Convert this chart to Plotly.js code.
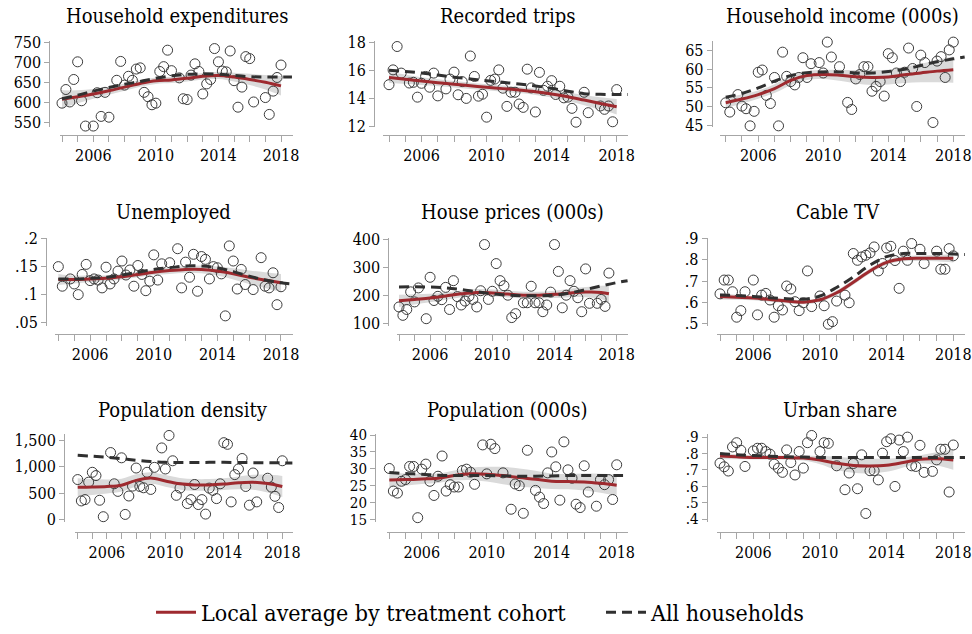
<!DOCTYPE html>
<html><head><meta charset="utf-8">
<script src="https://cdn.plot.ly/plotly-3.0.1.min.js"></script>
<style>html,body{margin:0;padding:0;background:#fff}#chart{width:972px;height:634px}</style>
</head><body><div id="chart"></div>
<script>
// ---------- DATA ----------
const quarters = [2004,2004.25,2004.5,2004.75,2005,2005.25,2005.5,2005.75,2006,2006.25,2006.5,2006.75,
  2007,2007.25,2007.5,2007.75,2008,2008.25,2008.5,2008.75,2009,2009.25,2009.5,2009.75,2010,2010.25,2010.5,2010.75,
  2011,2011.25,2011.5,2011.75,2012,2012.25,2012.5,2012.75,2013,2013.25,2013.5,2013.75,2014,2014.25,2014.5,2014.75,
  2015,2015.25,2015.5,2015.75,2016,2016.25,2016.5,2016.75,2017,2017.25,2017.5,2017.75,2018];
const lineYears = [2004,2005,2006,2007,2008,2009,2010,2011,2012,2013,2014,2015,2016,2017,2018];
const lineYearsHouse = [2004,2005,2006,2007,2008,2009,2010,2011,2012,2013,2014,2015,2016,2017,2017.5];
const dashYears = [2004,2005,2006,2007,2008,2009,2010,2011,2012,2013,2014,2015,2016,2017,2018,2018.7];
const xTickVals = [2004,2005,2006,2007,2008,2009,2010,2011,2012,2013,2014,2015,2016,2017,2018];
const xTickText = ['','','2006','','','','2010','','','','2014','','','','2018'];

const titles = ['Household expenditures','Recorded trips','Household income (000s)','Unemployed',
  'House prices (000s)','Cable TV','Population density','Population (000s)','Urban share'];

// scatter points (quarterly, null = no point)
const expPts = [598,632,601,657,701,604,541,null,541,624,565,625,563,null,655,702,643,665,655,683,686,625,614,594,598,677,689,730,679,null,661,609,607,668,696,677,621,646,657,734,701,678,676,728,654,588,638,714,709,601,null,null,612,570,628,662,693];
const tripsPts = [14.96,16.02,17.69,15.79,null,15.08,15.13,14.07,15.06,15.55,14.78,15.79,14.16,null,14.66,15.36,15.86,14.24,15.18,13.98,17.01,15.55,14.14,14.28,12.64,15.27,15.36,16.02,14.71,13.41,14.42,14.42,13.58,13.34,16.07,14.73,13.01,15.84,14.56,14.85,15.25,14.26,14.85,14.02,14.07,13.27,12.28,null,14.42,12.96,null,null,13.44,13.2,13.44,12.31,14.61];
const incomePts = [51.0,48.5,null,53.2,50.1,49.4,44.8,48.7,59.2,59.8,53.0,50.8,57.8,44.8,64.6,58.1,56.7,55.8,57.8,63.1,57.8,61.5,null,61.8,59.0,67.3,63.3,null,60.7,null,51.1,49.2,57.4,58.6,60.7,60.7,54.1,55.4,56.7,52.8,64.2,63.1,59.0,56.7,59.2,65.7,60.2,50.0,63.8,61.8,null,45.7,62.2,63.4,57.8,65.2,67.3];
const unempPts = [.150,.115,null,.128,.119,.100,.136,.154,.125,.128,.126,.112,.149,.119,.128,.142,.160,.135,.144,.115,.152,.136,.107,.124,.171,.126,.155,null,.157,null,.182,.112,.158,.131,.172,.106,.168,.163,.128,.150,.148,.137,.062,.187,.160,.110,.145,.118,null,.109,null,.166,.115,.112,.139,.082,.114];
const housePts = [158,128,149,212,176,226,null,116,264,181,196,184,228,149,252,195,165,179,196,185,158,216,381,185,214,313,252,234,200,120,134,null,173,173,232,173,173,141,165,211,381,285,155,200,252,214,191,141,294,171,null,171,185,160,279,null,null];
const cablePts = [.640,.705,.705,.650,.530,.561,.650,null,.705,.541,.634,.642,.611,.530,.584,.564,.677,.663,.603,.561,.598,.748,.580,null,.630,.584,.497,.509,.606,null,.634,.598,.830,.798,.814,.822,.833,.861,.748,.783,.856,.864,.797,.666,.841,.798,.877,null,.850,.783,null,null,.841,.756,.756,.853,.819];
const densityPts = [756,353,378,707,893,831,366,56,null,1265,676,533,1166,99,446,632,973,626,601,893,570,986,null,1352,955,1587,1110,459,595,null,304,378,663,285,378,105,595,552,397,676,1451,1420,335,849,955,1153,626,273,880,335,null,null,781,614,440,229,1110];
const popPts = [30.1,23.4,22.8,26.3,26.8,30.7,30.7,15.5,29.9,31.4,26.3,22.1,27.8,33.8,23.4,25.3,24.6,24.6,29.5,29.9,29.0,25.4,null,37.1,28.5,37.3,36.0,null,28.8,null,18.0,25.5,25.0,16.8,35.5,null,23.6,21.6,19.7,28.8,35.0,30.6,20.7,38.0,29.7,27.2,19.5,18.5,30.9,23.1,null,18.9,26.8,25.3,26.8,20.9,31.2];
const urbanPts = [.741,.719,.693,.840,.866,.820,.721,null,.816,.832,.832,.812,.796,.735,.711,.685,.822,.745,.669,.812,.711,.866,.910,null,.812,.866,.862,null,.725,null,.579,.681,.739,.585,.792,.434,.695,.695,.639,.802,.872,.890,.599,.882,.812,.900,.725,.721,.850,.685,null,.691,.761,.826,.826,.565,.852];

// local average by treatment cohort (yearly), CI half-widths, and all-households line
const expRed = [608,614,621,629,638,647,654,656,660,665,667,663,657,650,641];
const expHw = [22,16,12,10,9,8,8,8,8,8,9,11,14,18,24];
const expDash = [609,618,628,637,645,652,660,666,670,671,670,667,664,663,663,663];
const tripsRed = [15.48,15.35,15.22,15.10,14.99,14.88,14.78,14.68,14.58,14.46,14.30,14.10,13.86,13.62,13.38];
const tripsHw = [0.4,0.33,0.28,0.25,0.23,0.22,0.22,0.22,0.22,0.23,0.25,0.3,0.36,0.44,0.55];
const tripsDash = [16.0,15.9,15.8,15.65,15.5,15.37,15.25,15.13,15.01,14.87,14.7,14.5,14.32,14.27,14.26,14.26];
const incomeRed = [51.0,52.0,53.2,54.8,57.0,58.3,58.6,58.4,58.0,57.8,57.9,58.5,59.0,59.5,59.9];
const incomeHw = [1.5,1.2,1.1,1.2,1.3,1.2,1.2,1.5,1.8,2.0,2.0,2.2,2.5,3.0,3.5];
const incomeDash = [52.5,53.5,55.0,56.8,58.3,59.1,59.3,59.3,59.0,59.0,59.4,60.0,61.0,62.0,62.8,63.3];
const unempRed = [.127,.127,.128,.129,.132,.136,.140,.143,.145,.145,.142,.137,.131,.126,.121];
const unempHw = [.010,.007,.006,.005,.005,.005,.005,.006,.006,.007,.008,.010,.012,.014,.016];
const unempDash = [.128,.128,.129,.131,.135,.140,.145,.148,.151,.151,.148,.141,.133,.126,.121,.119];
const houseRed = [180,185,190,197,205,210,208,204,200,200,203,208,211,210,205];
const houseHw = [22,18,15,13,12,12,12,12,12,12,13,15,18,24,30];
const houseDash = [229,230,229,226,220,212,205,200,198,198,200,208,220,233,245,252];
const cableRed = [.628,.624,.620,.613,.606,.601,.612,.645,.695,.748,.788,.805,.808,.808,.808];
const cableHw = [.015,.012,.010,.010,.010,.010,.010,.012,.012,.012,.012,.012,.013,.015,.020];
const cableDash = [.635,.632,.628,.622,.617,.615,.630,.670,.720,.775,.815,.830,.830,.830,.828,.825];
const densityRed = [610,615,625,650,740,785,730,675,655,655,670,695,705,680,625];
const densityHw = [170,150,130,120,115,110,110,110,110,110,110,120,140,170,200];
const densityDash = [1215,1195,1175,1150,1120,1095,1080,1078,1078,1080,1080,1078,1075,1072,1070,1070];
const popRed = [26.7,26.8,27.0,27.2,28.0,28.5,28.4,28.0,27.4,26.9,26.3,26.2,26.1,25.7,25.1];
const popHw = [2.2,1.8,1.5,1.4,1.5,1.8,2.2,2.6,2.7,2.5,2.3,2.3,2.5,2.8,3.2];
const popDash = [28.9,28.6,28.4,28.1,28.0,28.0,28.0,27.9,27.8,27.8,27.9,28.0,28.0,28.0,28.0,28.0];
const urbanRed = [.785,.780,.776,.775,.775,.772,.760,.740,.727,.724,.728,.745,.765,.768,.761];
const urbanHw = [.020,.015,.012,.012,.013,.015,.025,.040,.045,.045,.040,.030,.025,.040,.060];
const urbanDash = [.800,.792,.788,.784,.780,.778,.776,.775,.775,.775,.775,.775,.775,.775,.775,.775];

// y tick labels
const yTicks = [
  {v:[550,600,650,700,750], t:['550','600','650','700','750']},
  {v:[12,14,16,18], t:['12','14','16','18']},
  {v:[45,50,55,60,65], t:['45','50','55','60','65']},
  {v:[.05,.1,.15,.2], t:['.05','.1','.15','.2']},
  {v:[100,200,300,400], t:['100','200','300','400']},
  {v:[.5,.6,.7,.8,.9], t:['.5','.6','.7','.8','.9']},
  {v:[0,500,1000,1500], t:['0','500','1,000','1,500']},
  {v:[15,20,25,30,35,40], t:['15','20','25','30','35','40']},
  {v:[.4,.5,.6,.7,.8,.9], t:['.4','.5','.6','.7','.8','.9']}
];

const series = [
  {pts:expPts, red:expRed, hw:expHw, dash:expDash, lx:lineYears},
  {pts:tripsPts, red:tripsRed, hw:tripsHw, dash:tripsDash, lx:lineYears},
  {pts:incomePts, red:incomeRed, hw:incomeHw, dash:incomeDash, lx:lineYears},
  {pts:unempPts, red:unempRed, hw:unempHw, dash:unempDash, lx:lineYears},
  {pts:housePts, red:houseRed, hw:houseHw, dash:houseDash, lx:lineYearsHouse},
  {pts:cablePts, red:cableRed, hw:cableHw, dash:cableDash, lx:lineYears},
  {pts:densityPts, red:densityRed, hw:densityHw, dash:densityDash, lx:lineYears},
  {pts:popPts, red:popRed, hw:popHw, dash:popDash, lx:lineYears},
  {pts:urbanPts, red:urbanRed, hw:urbanHw, dash:urbanDash, lx:lineYears}
];

// ---------- LAYOUT (pixel positions) ----------
const W = 972, H = 634;
const pos = [
 {xd:[60,292.7], xr:[2003.872,2018.748], xl:136.7, yd:[42,129], yr:[537.7,751.7], yl:49.3, tx:177, ty:16, yf:16},
 {xd:[383,628], xr:[2003.631,2018.695], xl:136.7, yd:[42,129], yr:[11.91,18.05], yl:374, tx:507, ty:16, yf:16},
 {xd:[720,965], xr:[2003.649,2018.72], xl:136.7, yd:[42,129], yr:[44.39,67.47], yl:711.7, tx:842, ty:16, yf:16},
 {xd:[55,293], xr:[2003.79,2018.755], xl:338.3, yd:[241,330], yr:[0.0442,0.2012], yl:46, tx:173, ty:215, yf:16},
 {xd:[396.7,628.3], xr:[2003.852,2018.746], xl:338.3, yd:[241,330], yr:[90.5,404.6], yl:388.3, tx:512, ty:215, yf:16},
 {xd:[716.7,965], xr:[2003.802,2018.702], xl:338.3, yd:[241,330], yr:[0.4893,0.9033], yl:706.7, tx:838, ty:215, yf:16},
 {xd:[75,292.7], xr:[2003.815,2018.712], xl:538.3, yd:[440,529], yr:[-50,1606], yl:64, tx:183, ty:415, yf:16},
 {xd:[386.7,628.3], xr:[2003.84,2018.714], xl:538.3, yd:[440,529], yr:[14.12,40.2], yl:375, tx:507, ty:415, yf:15},
 {xd:[716.7,965], xr:[2003.802,2018.702], xl:538.3, yd:[440,529], yr:[0.38,0.9163], yl:706.7, tx:840, ty:415, yf:15}
];

const FONT = 'DejaVu Serif Condensed, DejaVu Serif';
const RED = '#9e2a2f';
const AXC = '#a6a6a6';
const traces = [];
const legendCommon = {xanchor:'left', y:1-620/H, yanchor:'middle', orientation:'h', itemwidth:40,
  font:{size:23, family:FONT, color:'#000'}, bgcolor:'rgba(0,0,0,0)'};
const layout = {
  width: W, height: H, margin:{l:0,r:0,t:0,b:0},
  paper_bgcolor:'#fff', plot_bgcolor:'rgba(0,0,0,0)',
  font:{family:FONT, color:'#000', size:16},
  showlegend:true,
  legend:Object.assign({x:151/W}, legendCommon),
  legend2:Object.assign({x:601/W}, legendCommon),
  annotations:[]
};

series.forEach((s, i) => {
  const n = i + 1, sfx = n > 1 ? n : '';
  const xa = 'x' + sfx, ya = 'y' + sfx;
  const p = pos[i];
  const up = s.red.map((v, j) => v + s.hw[j]);
  const lo = s.red.map((v, j) => v - s.hw[j]);
  traces.push({x:s.lx, y:up, xaxis:xa, yaxis:ya, mode:'lines', line:{width:0, shape:'spline', color:'rgba(0,0,0,0)'},
    hoverinfo:'skip', showlegend:false});
  traces.push({x:s.lx, y:lo, xaxis:xa, yaxis:ya, mode:'lines', line:{width:0, shape:'spline', color:'rgba(0,0,0,0)'},
    fill:'tonexty', fillcolor:'#dadada', hoverinfo:'skip', showlegend:false});
  traces.push({x:quarters, y:s.pts, xaxis:xa, yaxis:ya, mode:'markers', cliponaxis:false,
    marker:{symbol:'circle-open', size:10, color:'#3c3c3c', line:{width:1, color:'#3c3c3c'}}, showlegend:false});
  traces.push({x:s.lx, y:s.red, xaxis:xa, yaxis:ya, mode:'lines', cliponaxis:false,
    line:{color:RED, width:3, shape:'spline'}, name:'Local average by treatment cohort',
    showlegend:i===0, legend:'legend'});
  traces.push({x:dashYears, y:s.dash, xaxis:xa, yaxis:ya, mode:'lines', cliponaxis:false,
    line:{color:'#303030', width:3, dash:'10px,6px', shape:'spline'}, name:'All households',
    showlegend:i===0, legend:'legend2'});

  layout['xaxis' + sfx] = {
    domain:[p.xd[0]/W, p.xd[1]/W], range:p.xr, anchor:'free', position:1 - p.xl/H,
    showline:true, linecolor:AXC, linewidth:1, ticks:'outside', ticklen:6, tickcolor:AXC, tickwidth:1,
    tickvals:xTickVals, ticktext:xTickText, tickfont:{size:16, family:FONT, color:'#000'},
    ticklabeloverflow:'allow',
    showgrid:false, zeroline:false, fixedrange:true, automargin:false
  };
  layout['yaxis' + sfx] = {
    domain:[1 - p.yd[1]/H, 1 - p.yd[0]/H], range:p.yr, anchor:'free', position:p.yl/W,
    showline:true, linecolor:AXC, linewidth:1, ticks:'outside', ticklen:5, tickcolor:AXC, tickwidth:1,
    tickvals:yTicks[i].v, ticktext:yTicks[i].t, tickfont:{size:p.yf, family:FONT, color:'#000'},
    ticklabeloverflow:'allow',
    showgrid:false, zeroline:false, fixedrange:true, automargin:false
  };
  layout.annotations.push({text:titles[i], xref:'paper', yref:'paper', x:p.tx/W, y:1 - p.ty/H,
    xanchor:'center', yanchor:'middle', showarrow:false, font:{size:20, family:FONT, color:'#000'}});
});

Plotly.newPlot('chart', traces, layout, {displayModeBar:false, staticPlot:true});
</script>
</body></html>
